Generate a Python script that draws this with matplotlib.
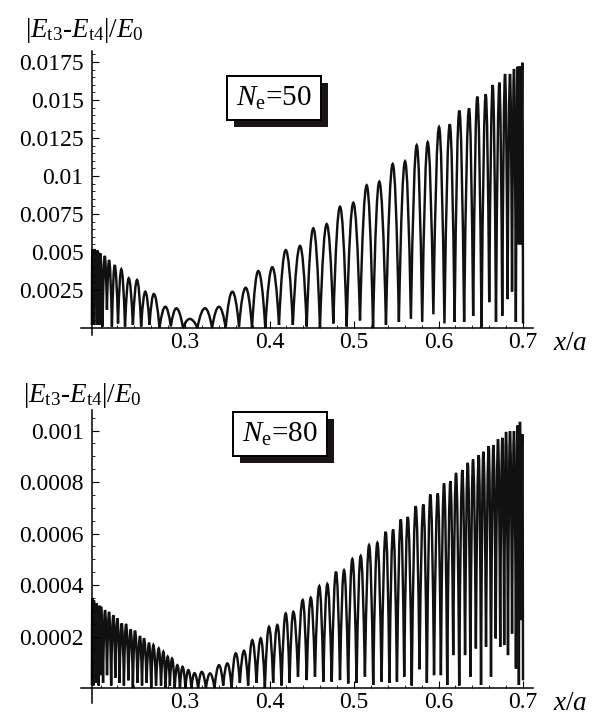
import matplotlib
matplotlib.use('Agg')
import matplotlib.pyplot as plt
import matplotlib.patheffects as pe
from matplotlib.path import Path
from matplotlib.patches import PathPatch
from matplotlib.ticker import FixedLocator

plt.rcParams['font.family'] = 'Liberation Serif'
plt.rcParams['mathtext.fontset'] = 'custom'
plt.rcParams['mathtext.rm'] = 'Liberation Serif'
plt.rcParams['mathtext.it'] = 'Liberation Serif:italic'
plt.rcParams['mathtext.bf'] = 'Liberation Serif:bold'

# ---- top panel, N_e = 50 : tops of the arcs and the minima between them
top_peak_x = [0.1902, 0.1911, 0.1929, 0.1947, 0.1964, 0.1982, 0.1998, 0.2050, 0.2101, 0.2168,
              0.2246, 0.2334, 0.2432, 0.2530, 0.2630, 0.2767, 0.2897, 0.3056, 0.3237, 0.3402,
              0.3560, 0.3718, 0.3867, 0.4033, 0.4192, 0.4361, 0.4518, 0.4677, 0.4834, 0.4992,
              0.5150, 0.5299, 0.5458, 0.5604, 0.5742, 0.5872, 0.6006, 0.6133, 0.6246, 0.6361,
              0.6459, 0.6559, 0.6641, 0.6720, 0.6787, 0.6846, 0.6893, 0.6937, 0.6964, 0.6992]
top_peak_y = [0.0052, 0.0050, 0.0052, 0.0049, 0.0051, 0.0049, 0.0049, 0.00474, 0.00447, 0.00414,
              0.00386, 0.00327, 0.00316, 0.00239, 0.00224, 0.0014, 0.0013, 0.0006, 0.0013, 0.0014,
              0.00239, 0.00265, 0.00375, 0.0040, 0.00513, 0.0054, 0.00656, 0.00684, 0.00798, 0.00824,
              0.00939, 0.00963, 0.01079, 0.01097, 0.01202, 0.01222, 0.01322, 0.0134, 0.0143, 0.01445,
              0.01522, 0.01538, 0.01599, 0.01614, 0.01671, 0.01671, 0.01704, 0.01719, 0.0172, 0.01745]
top_trough_x = [0.1898, 0.1906, 0.1920, 0.1938, 0.1956, 0.1973, 0.1990, 0.2024, 0.2076, 0.2135,
                0.2207, 0.2290, 0.2383, 0.2481, 0.2580, 0.2698, 0.2832, 0.2976, 0.3146, 0.3320,
                0.3481, 0.3639, 0.3793, 0.3950, 0.4112, 0.4276, 0.4440, 0.4597, 0.4755, 0.4913,
                0.5071, 0.5225, 0.5378, 0.5531, 0.5673, 0.5807, 0.5939, 0.6070, 0.6190, 0.6303,
                0.6410, 0.6509, 0.6600, 0.6680, 0.6754, 0.6817, 0.6870, 0.6915, 0.6950, 0.6978,
                0.7000]
top_trough_y = [0.0002, 0.0027, 0.0002, 0.0026, 0.0002, 0.0025, 0.0002, 0.0001, 0.0012, 0.0001,
                0.0003, 0.0001, 0.0002, 0.0001, 0.0002, 0.0, 0.0001, 0.0, 0.0, 0.0,
                0.0, 0.0001, 0.0, 0.0, 0.0002, 0.0002, 0.0001, 0.0, 0.0003, 0.0001,
                0.0005, 0.0, 0.0002, 0.0004, 0.0006, 0.0004, 0.0009, 0.0003, 0.0004, 0.0004,
                0.0008, 0.0, 0.0017, 0.0004, 0.0008, 0.0019, 0.0024, 0.0004, 0.0055, 0.0055,
                0.0003]

# ---- bottom panel, N_e = 80
bot_peak_x = [0.1902, 0.1908, 0.1923, 0.1938, 0.1955, 0.1970, 0.1988, 0.2006,
              0.2053, 0.2101, 0.2151, 0.2199, 0.2251, 0.2302, 0.2357, 0.2408, 0.2467, 0.2515,
              0.2574, 0.2625, 0.2689, 0.2743, 0.2795, 0.2846, 0.2909,
              0.2970, 0.3039, 0.3112, 0.3198, 0.3296,
              0.3402, 0.3501, 0.3600, 0.3698, 0.3796, 0.3896, 0.3994, 0.4092, 0.4192, 0.4282,
              0.4393, 0.4488, 0.4589, 0.4684, 0.4787, 0.4882, 0.4980, 0.5079, 0.5178, 0.5276,
              0.5375, 0.5462, 0.5553, 0.5636, 0.5730, 0.5820, 0.5903, 0.5991, 0.6065, 0.6140,
              0.6207, 0.6282, 0.6346, 0.6408, 0.6476, 0.6530, 0.6594, 0.6649, 0.6704, 0.6755,
              0.6799, 0.6846, 0.6893, 0.6937, 0.6964, 0.6992]
bot_peak_y = [0.00035, 0.00031, 0.00034, 0.00030, 0.00033, 0.00029, 0.00032, 0.000316,
              0.000303, 0.000296, 0.000283, 0.000271, 0.000251, 0.000249, 0.000228, 0.000223,
              0.000202, 0.000193, 0.000176, 0.000167, 0.000154, 0.000141, 0.000122, 0.000115,
              0.000089,
              0.000083, 0.00007, 0.000058, 0.000063, 0.000057,
              0.000089, 0.000096, 0.000135, 0.000145, 0.000186, 0.000193, 0.000238, 0.000245,
              0.00029, 0.000296, 0.000342, 0.000351, 0.000396, 0.000404, 0.000452, 0.000458,
              0.000501, 0.000513, 0.000555, 0.000564, 0.000607, 0.000616, 0.000655, 0.000665,
              0.000707, 0.000713, 0.000752, 0.000756, 0.000795, 0.000804, 0.000836, 0.000847,
              0.000875, 0.000888, 0.000905, 0.000918, 0.00094, 0.000944, 0.000966, 0.000972,
              0.000995, 0.000998, 0.000998, 0.00102, 0.001034, 0.000986]
bot_trough_x = [0.1898,
                0.1905, 0.1915, 0.1930, 0.1946, 0.1962, 0.1979, 0.1997,
                0.2030, 0.2077, 0.2126, 0.2175, 0.2225, 0.2277, 0.2330, 0.2383, 0.2438, 0.2491,
                0.2545, 0.2600, 0.2657, 0.2716, 0.2769, 0.2821, 0.2878, 0.2940, 0.3005, 0.3076,
                0.3155, 0.3247, 0.3349, 0.3452, 0.3551, 0.3649, 0.3747, 0.3846, 0.3945, 0.4043,
                0.4142, 0.4237,
                0.4337, 0.4440, 0.4538, 0.4637, 0.4736, 0.4834, 0.4931, 0.5030, 0.5129, 0.5227,
                0.5326, 0.5419, 0.5508, 0.5594, 0.5683, 0.5775, 0.5862, 0.5947, 0.6028, 0.6103,
                0.6174, 0.6245, 0.6314, 0.6377, 0.6442, 0.6503, 0.6562, 0.6621, 0.6677, 0.6730,
                0.6777, 0.6822, 0.6870, 0.6916, 0.6951, 0.6979,
                0.7000]
bot_trough_y = [0.00001,
                0.00008, 0.00001, 0.00007, 0.00002, 0.00006, 0.00001, 0.00005,
                0.00002, 0.00005, 0.00001, 0.00004, 0.00002, 0.00001, 0.00003, 0.0, 0.00002, 0.00001,
                0.00002, 0.0, 0.00001, 0.00001, 0.0, 0.00001, 0.0, 0.0, 0.0, 0.0,
                0.0, 0.0, 0.0, 0.00001, 0.0, 0.00002, 0.00001, 0.00002, 0.0, 0.00002,
                0.00001, 0.00002,
                0.000044, 0.000031, 0.000044, 0.000025, 0.000025, 0.000031, 0.000018, 0.00002,
                0.000044, 0.000012, 0.000025, 0.00002, 0.000025, 0.000044, 0.00001, 0.000073,
                0.00002, 0.00005, 0.00005, 0.000012, 0.000128, 0.00001, 0.000128, 0.000044,
                0.000154, 0.000012, 0.00016, 0.000044, 0.000193, 0.00016, 0.000167, 0.000128,
                0.000212, 0.000076, 0.000012, 0.000264,
                0.00003]

top_yticks = [0.0025, 0.005, 0.0075, 0.01, 0.0125, 0.015, 0.0175]
top_ylabels = ['0.0025', '0.005', '0.0075', '0.01', '0.0125', '0.015', '0.0175']
bot_yticks = [0.0002, 0.0004, 0.0006, 0.0008, 0.001]
bot_ylabels = ['0.0002', '0.0004', '0.0006', '0.0008', '0.001']
xticks = [0.3, 0.4, 0.5, 0.6, 0.7]
xlabels = ['0.3', '0.4', '0.5', '0.6', '0.7']


def arcs(px, py, tx, ty):
    # one rounded hump per peak, sharp at the minima
    assert len(px) == len(py) and len(tx) == len(ty) == len(px) + 1
    verts = [(tx[0], ty[0])]
    codes = [Path.MOVETO]
    for i in range(len(px)):
        verts += [((tx[i] + px[i]) / 2, py[i]), (px[i], py[i]),
                  ((px[i] + tx[i + 1]) / 2, py[i]), (tx[i + 1], ty[i + 1])]
        codes += [Path.CURVE3] * 4
    return Path(verts, codes)


W, H = 599, 722
fig = plt.figure(figsize=(W / 100, H / 100), dpi=100)


def fx(p):
    return p / W


def fy(p):
    return 1 - p / H


def panel(rect, ylim, yticks, ylabels, yminor, path, box_text, box_xy, lab_xy, xa_y):
    ax = fig.add_axes(rect)
    ax.add_patch(PathPatch(path, facecolor='none', edgecolor='#111111', lw=1.75,
                           capstyle='butt', joinstyle='miter'))
    ax.set_xlim(0.1769, 0.7118)
    ax.set_ylim(*ylim)
    for s in ['top', 'right']:
        ax.spines[s].set_visible(False)
    ax.spines['left'].set_position(('data', 0.1899))
    ax.spines['bottom'].set_position(('data', 0))
    ax.spines['left'].set_linewidth(1.1)
    ax.spines['bottom'].set_linewidth(1.1)
    ax.set_yticks(yticks)
    ax.set_yticklabels(ylabels)
    ax.yaxis.set_minor_locator(FixedLocator(yminor))
    ax.set_xticks(xticks)
    ax.set_xticklabels(xlabels)
    ax.xaxis.set_minor_locator(FixedLocator([0.2 + 0.02 * k for k in range(26)]))
    ax.tick_params(which='major', direction='in', length=5, width=0.8, labelsize=17, pad=6)
    ax.tick_params(which='minor', direction='in', length=2.5, width=0.6)
    ax.tick_params(axis='x', which='major', pad=3)
    t = fig.text(fx(box_xy[0]), fy(box_xy[1]), box_text, fontsize=21, ha='center', va='center',
                 bbox=dict(boxstyle='square,pad=0.3', fc='white', ec='black', lw=1.4))
    t.get_bbox_patch().set_path_effects(
        [pe.withSimplePatchShadow(offset=(5, -5), shadow_rgbFace='#1a1414', alpha=1.0), pe.Normal()])
    fig.text(fx(lab_xy[0]), fy(lab_xy[1]), r'$|E_{\rm t3}$-$E_{\rm t4}|/E_0$', fontsize=19.5,
             ha='left', va='baseline')
    fig.text(fx(553), fy(xa_y), r'$x/a$', fontsize=19.5, ha='left', va='center')
    return ax


panel([fx(81), fy(335), fx(533 - 81), (335 - 51) / H],
      (-0.00046, 0.01822), top_yticks, top_ylabels,
      [0.0005 * k for k in range(1, 37)],
      arcs(top_peak_x, top_peak_y, top_trough_x, top_trough_y),
      r'$N_{\rm e}$=50', (274, 98), (25, 37), 343)
panel([fx(81), fy(703), fx(533 - 81), (703 - 410) / H],
      (-0.000058, 0.00108), bot_yticks, bot_ylabels,
      [0.00005 * k for k in range(1, 22)],
      arcs(bot_peak_x, bot_peak_y, bot_trough_x, bot_trough_y),
      r'$N_{\rm e}$=80', (280, 434), (23, 402), 704)

fig.savefig('out.png', dpi=100)
